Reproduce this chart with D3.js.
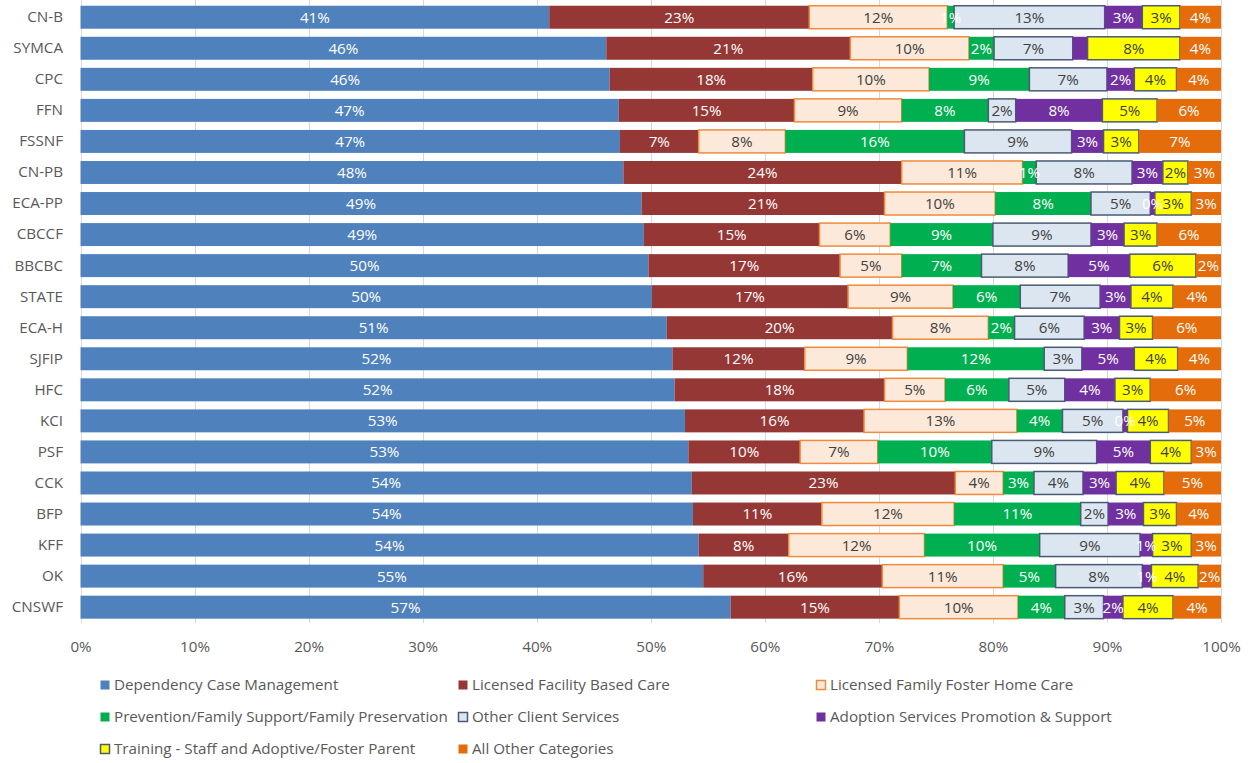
<!DOCTYPE html>
<html>
<head>
<meta charset="utf-8">
<script src="https://cdn.jsdelivr.net/npm/d3@7"></script>
<style>
  body { margin: 0; background: #fff; }
  text { font-family: "Open Sans", "Noto Sans", sans-serif; }
</style>
</head>
<body>
<svg id="chart" width="1248" height="763"></svg>
<script>
const categories = ["CN-B", "SYMCA", "CPC", "FFN", "FSSNF", "CN-PB", "ECA-PP", "CBCCF", "BBCBC", "STATE",
  "ECA-H", "SJFIP", "HFC", "KCI", "PSF", "CCK", "BFP", "KFF", "OK", "CNSWF"];

const seriesNames = ["Dependency Case Management", "Licensed Facility Based Care", "Licensed Family Foster Home Care",
  "Prevention/Family Support/Family Preservation", "Other Client Services", "Adoption Services Promotion & Support",
  "Training - Staff and Adoptive/Foster Parent", "All Other Categories"];

// percent of spending
const dependency = [41.1, 46.1, 46.4, 47.2, 47.3, 47.6, 49.2, 49.4, 49.8, 50.1, 51.4, 51.9, 52.1, 53.0, 53.3, 53.6, 53.7, 54.2, 54.6, 57.0];
const facility   = [22.8, 21.4, 17.8, 15.4, 6.9, 24.4, 21.3, 15.4, 16.8, 17.2, 19.8, 11.6, 18.4, 15.7, 9.8, 23.1, 11.3, 7.9, 15.7, 14.8];
const fosterHome = [12.1, 10.4, 10.2, 9.4, 7.6, 10.6, 9.7, 6.2, 5.4, 9.2, 8.4, 9.0, 5.3, 13.4, 6.8, 4.2, 11.6, 11.9, 10.6, 10.4];
const prevention = [0.6, 2.2, 8.8, 7.6, 15.7, 1.2, 8.4, 9.0, 7.0, 5.9, 2.3, 12.0, 5.6, 4.0, 10.0, 2.7, 11.1, 10.1, 4.6, 4.1];
const otherClient = [13.2, 6.9, 6.8, 2.4, 9.4, 8.4, 5.2, 8.6, 7.6, 7.0, 6.1, 3.3, 4.9, 5.3, 9.2, 4.3, 2.4, 8.8, 7.6, 3.4];
const adoption   = [3.3, 1.3, 2.4, 7.6, 2.8, 2.7, 0.4, 2.9, 5.4, 2.7, 3.1, 4.6, 4.4, 0.4, 4.7, 2.9, 3.1, 1.1, 0.8, 1.7];
const training   = [3.3, 8.1, 3.7, 4.8, 3.1, 2.2, 3.2, 2.9, 5.8, 3.7, 2.9, 3.8, 3.1, 3.6, 3.6, 4.2, 2.9, 3.4, 4.1, 4.4];
const allOther   = [3.6, 3.6, 3.9, 5.6, 7.2, 2.9, 2.6, 5.6, 2.2, 4.2, 6.0, 3.8, 6.2, 4.6, 2.6, 5.0, 3.9, 2.6, 2.0, 4.2];

const xTicks = [0, 0.1, 0.2, 0.3, 0.4, 0.5, 0.6, 0.7, 0.8, 0.9, 1];
// labels Excel left off (category, series index)
const hiddenLabels = [["SYMCA", 5]];

const seriesValues = [dependency, facility, fosterHome, prevention, otherClient, adoption, training, allOther];
const fills   = ["#4F81BD", "#953735", "#FDE9D9", "#00B050", "#DCE6F1", "#7030A0", "#FFFF00", "#E46C0A"];
const strokes = [null, null, "#F08A3C", null, "#4A5A74", null, "#4A5A74", null];
const labelColors = ["#fff", "#fff", "#404040", "#fff", "#404040", "#fff", "#404040", "#fff"];
const fontSize = "15.2px";

const rows = categories.map((c, i) => {
  const r = { cat: c };
  seriesNames.forEach((s, j) => { r[s] = seriesValues[j][i]; });
  return r;
});

const stacked = d3.stack().keys(seriesNames).offset(d3.stackOffsetExpand)(rows);

const svg = d3.select("#chart");

const x = d3.scaleLinear().domain([0, 1]).range([80.5, 1221]);
const y = d3.scaleBand().domain(categories).range([1.7, 622.7]).paddingInner(0.26).paddingOuter(0.13);

// gridlines
svg.append("g")
  .selectAll("line")
  .data(xTicks)
  .enter()
  .append("line")
  .attr("x1", d => Math.round(x(d)) + 0.5)
  .attr("x2", d => Math.round(x(d)) + 0.5)
  .attr("y1", 0)
  .attr("y2", 623)
  .attr("stroke", "#d9d9d9")
  .attr("stroke-width", 1);

// x tick labels
const xAxis = svg.append("g")
  .attr("transform", "translate(0, 641)")
  .call(d3.axisBottom(x).tickValues(xTicks).tickFormat(d3.format(".0%")).tickSize(0).tickPadding(0));
xAxis.select(".domain").remove();
xAxis.selectAll("text")
  .attr("fill", "#595959")
  .style("font-size", fontSize)
  .style("font-family", "'Open Sans', sans-serif");

// category labels
const yAxis = svg.append("g")
  .attr("transform", "translate(63, 0)")
  .call(d3.axisLeft(y).tickSize(0).tickPadding(0));
yAxis.select(".domain").remove();
yAxis.selectAll("text")
  .attr("fill", "#595959")
  .style("font-size", fontSize)
  .style("font-family", "'Open Sans', sans-serif");

const layers = svg.append("g")
  .selectAll("g")
  .data(stacked)
  .enter()
  .append("g");

layers.selectAll("rect")
  .data(d => d)
  .enter()
  .append("rect")
  .attr("x", d => x(d[0]))
  .attr("y", d => y(d.data.cat))
  .attr("width", d => x(d[1]) - x(d[0]))
  .attr("height", y.bandwidth())
  .attr("fill", function () { return fills[d3.select(this.parentNode).datum().index]; })
  .attr("stroke", function () { return strokes[d3.select(this.parentNode).datum().index] || "none"; })
  .attr("stroke-width", 1.5);

// data labels on top of all bars
const labelData = [];
stacked.forEach((layer, j) => {
  layer.forEach(d => {
    const hidden = hiddenLabels.some(h => h[0] === d.data.cat && h[1] === j);
    if (!hidden) labelData.push({ j: j, d: d, v: seriesValues[j][categories.indexOf(d.data.cat)] });
  });
});

svg.append("g")
  .selectAll("text")
  .data(labelData)
  .enter()
  .append("text")
  .attr("x", e => (x(e.d[0]) + x(e.d[1])) / 2)
  .attr("y", e => y(e.d.data.cat) + y.bandwidth() / 2)
  .attr("dy", "0.36em")
  .attr("text-anchor", "middle")
  .attr("fill", e => labelColors[e.j])
  .style("font-size", fontSize)
  .text(e => Math.round(e.v) + "%");

// legend
const legendCols = [100, 458, 816];
const legendRows = [685, 717, 749];
const legend = svg.append("g")
  .selectAll("g")
  .data(seriesNames)
  .enter()
  .append("g")
  .attr("transform", (d, i) => `translate(${legendCols[i % 3]}, ${legendRows[Math.floor(i / 3)]})`);

legend.append("rect")
  .attr("x", 0.5)
  .attr("y", -4.5)
  .attr("width", 9)
  .attr("height", 9)
  .attr("fill", (d, i) => fills[i])
  .attr("stroke", (d, i) => strokes[i] || "none")
  .attr("stroke-width", 1.5);

legend.append("text")
  .attr("x", 14)
  .attr("y", 0)
  .attr("dy", "0.36em")
  .attr("fill", "#595959")
  .style("font-size", fontSize)
  .text(d => d);
</script>
</body>
</html>
